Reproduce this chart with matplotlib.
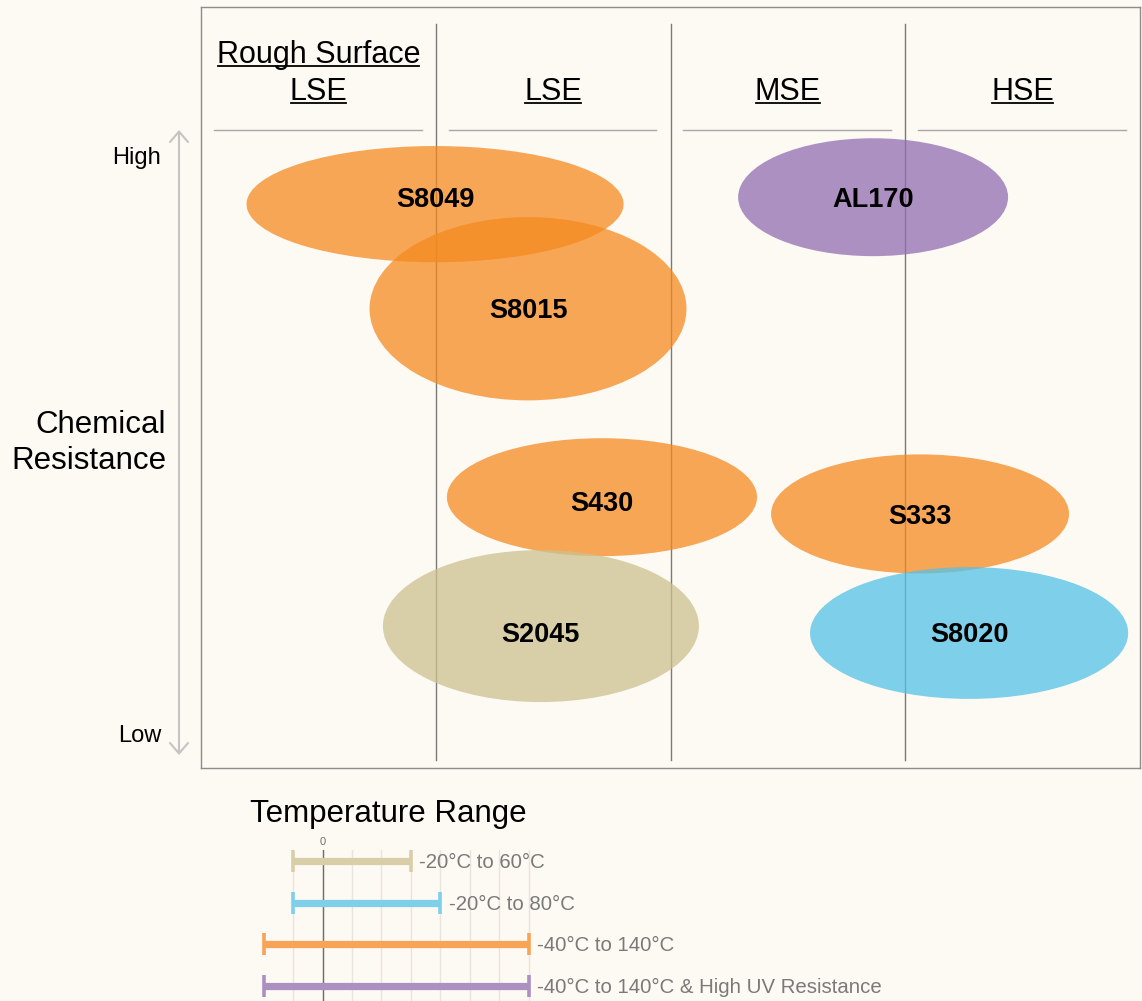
import matplotlib
matplotlib.use("Agg")
import matplotlib.pyplot as plt
from matplotlib.patches import Ellipse

plt.rcParams['font.family'] = ['Liberation Sans', 'DejaVu Sans']

# ---------------- data ----------------
columns = ["Rough Surface\nLSE", "LSE", "MSE", "HSE"]

products = ["S8049", "S8015", "AL170", "S430", "S333", "S2045", "S8020"]
# x centre in column units (0..4), y centre on chemical resistance scale (Low=0, High=100)
ell_x = [0.997, 1.393, 2.863, 1.708, 3.063, 1.448, 3.272]
ell_y = [91.5, 73.4, 92.7, 40.8, 37.9, 18.5, 17.3]
ell_w = [1.606, 1.350, 1.150, 1.321, 1.269, 1.346, 1.355]
ell_h = [20.1, 31.7, 20.4, 20.4, 20.6, 26.3, 22.8]
label_y = [92.7, 73.5, 92.7, 40.1, 37.9, 17.5, 17.5]
ell_color = ["#F48A20", "#F48A20", "#916DB1", "#F48A20", "#F48A20", "#CCC18F", "#54C1E7"]

temp_labels = ["-20°C to 60°C", "-20°C to 80°C", "-40°C to 140°C",
               "-40°C to 140°C & High UV Resistance"]
temp_low = [-20, -20, -40, -40]
temp_high = [60, 80, 140, 140]
temp_color = ["#D8CFA8", "#7ECFEA", "#F7A456", "#AC90C2"]

# ---------------- layout helpers ----------------
W, H = 1142, 1001
BG = "#FDF9F3"
fig = plt.figure(figsize=(W / 100, H / 100), dpi=100, facecolor=BG)


def fx(px):
    return px / W


def fy(py):
    return 1 - py / H


# main axes: box from x=201..1140, y=7..768 px
ax = fig.add_axes([fx(201), fy(768), (1140 - 201) / W, (768 - 7) / H])
ax.set_facecolor(BG)
COLW = 234.75
YLOW, PXU = 733, 5.78


def ydat(py):
    return (YLOW - py) / PXU


def xdat(px):
    return (px - 201) / COLW


ax.set_xlim(0, 4)
ax.set_ylim(ydat(768), ydat(7))
ax.set_xticks([])
ax.set_yticks([])
for s in ax.spines.values():
    s.set_color("#8C8C8C")
    s.set_linewidth(1.0)

# column dividers
for c in range(1, 4):
    ax.plot([c, c], [ydat(24), ydat(760)], color="#7A7A7A", lw=1.0, zorder=1)
# header separators
for c in range(4):
    ax.plot([c + 0.055, c + 0.94], [ydat(130), ydat(130)], color="#A8A8A8", lw=1.0, zorder=1)

# ellipses
TXT_SHIFT = 3 / PXU  # visual centring of text (px -> data units)
for i, p in enumerate(products):
    e = Ellipse((ell_x[i], ell_y[i]), ell_w[i], ell_h[i], facecolor=ell_color[i],
                edgecolor="none", alpha=0.75, zorder=2)
    ax.add_patch(e)
    ax.text(ell_x[i], label_y[i] - TXT_SHIFT, p, ha="center", va="center", fontsize=19.5,
            fontweight="bold", color="black", zorder=4)

# column headers (underlined)
header_texts = []
for c, name in enumerate(columns):
    cx = fx(201 + COLW * (c + 0.5))
    lines = name.split("\n")
    baselines = [100] if len(lines) == 1 else [63, 100]
    for ln, bl in zip(lines, baselines):
        t = fig.text(cx, fy(bl), ln, ha="center", va="baseline", fontsize=22, color="black")
        header_texts.append((t, bl))

# y-axis annotation
ax.text(xdat(161), 100 - TXT_SHIFT, "High", ha="right", va="center", fontsize=17, color="black")
ax.text(xdat(161), 0 - TXT_SHIFT, "Low", ha="right", va="center", fontsize=17, color="black")
ax.text(xdat(166), ydat(443), "Chemical\nResistance", ha="right", va="center",
        multialignment="right", fontsize=22.5, color="black", linespacing=1.25)
ax.annotate("", xy=(xdat(179), ydat(130)), xytext=(xdat(179), ydat(755)),
            arrowprops=dict(arrowstyle="<->,head_length=0.75,head_width=0.65",
                            color="#C4C4C4", lw=1.5, mutation_scale=10,
                            shrinkA=0, shrinkB=0),
            annotation_clip=False)

# ---------------- temperature range ----------------
fig.text(fx(250), fy(822), "Temperature Range", ha="left", va="baseline",
         fontsize=22.5, color="black")

ZERO_PX, PXC = 322.5, 1.474
axl, axr = 240, 900
ax2 = fig.add_axes([fx(axl), 0, (axr - axl) / W, fy(850)])
ax2.set_facecolor("none")
ax2.set_xlim((axl - ZERO_PX) / PXC, (axr - ZERO_PX) / PXC)
row_px = 41.7
ax2.set_ylim((1001 - 861) / row_px, (850 - 861) / row_px)
for s in ax2.spines.values():
    s.set_visible(False)
ax2.set_xticks([])
ax2.set_yticks([])
for g in range(-20, 141, 20):
    ax2.axvline(g, color="#E9E4DC", lw=1.0, zorder=0)
ax2.axvline(0, color="#6E6E6E", lw=1.0, zorder=1)
ax2.annotate("0", xy=(0, 1.0), xycoords=ax2.get_xaxis_transform(), xytext=(0, 2),
             textcoords="offset points", ha="center", va="bottom", fontsize=8,
             color="#707070")

for i in range(len(temp_labels)):
    ax2.plot([temp_low[i], temp_high[i]], [i, i], color=temp_color[i], lw=5.2,
             solid_capstyle="butt", zorder=2)
    ax2.plot([temp_low[i], temp_high[i]], [i, i], ls="none", marker="|",
             markersize=16, markeredgewidth=2.6, color=temp_color[i], zorder=3)
    ax2.annotate(temp_labels[i], xy=(temp_high[i], i), xytext=(6, -1.0),
                 textcoords="offset points", ha="left", va="center",
                 fontsize=14.7, color="#7A7A7A")

# underlines for headers
fig.canvas.draw()
r = fig.canvas.get_renderer()
for t, bl in header_texts:
    bb = t.get_window_extent(renderer=r)
    y = fy(bl + 2.5)
    fig.add_artist(plt.Line2D([bb.x0 / W + 0.001, bb.x1 / W - 0.001], [y, y],
                              transform=fig.transFigure, color="black", lw=1.3))

fig.savefig("out.png", dpi=100, facecolor=BG)
